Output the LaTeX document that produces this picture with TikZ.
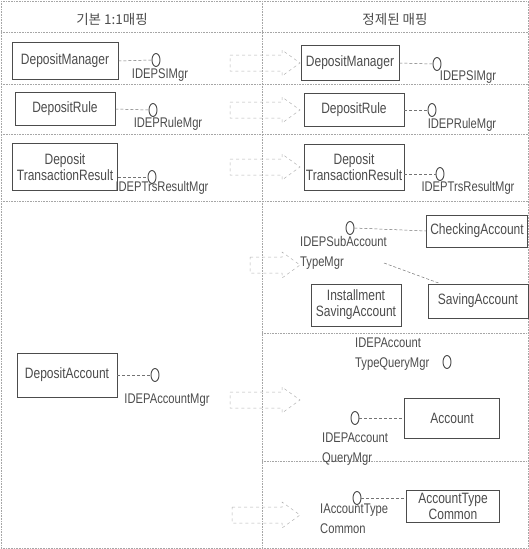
\documentclass[tikz,border=0pt]{standalone}
\usepackage{fontspec}
\setmainfont{Liberation Sans}
\newfontfamily\narrowfont{Liberation Sans}[FakeStretch=0.8]
\newfontfamily\labelfont{Liberation Sans}[FakeStretch=0.8]
\newfontfamily\krfont{Noto Sans CJK KR}
\usetikzlibrary{shapes.geometric}
\tikzset{
  sep/.style={gray!70, densely dotted, line width=0.6pt},
  cls/.style={draw=black!70, line width=0.9pt, fill=white, align=center,
    font=\narrowfont\fontsize{15}{16}\selectfont, text=black!70, inner sep=1pt},
  iface/.style={ellipse, draw=black!75, line width=0.9pt, minimum width=8pt,
    minimum height=13pt, inner sep=0pt},
  ilabel/.style={font=\labelfont\fontsize{14}{20}\selectfont, text=black!70, inner sep=0pt, align=left},
  link/.style={black!55, densely dashed, line width=0.5pt},
  blockarrow/.style={draw=gray!60, dashed, line width=0.5pt},
  hdr/.style={font=\krfont\fontsize{13.5}{15}\selectfont, text=black!70}
}
\begin{document}
\begin{tikzpicture}[x=1pt,y=-1pt]
\useasboundingbox (0,0) rectangle (529,549);
% frame and separators
\draw[sep] (1,1) rectangle (528,548);
\draw[sep] (262,1) -- (262,548);
\draw[sep] (1,32) -- (528,32);
\draw[sep] (1,84) -- (528,84);
\draw[sep] (1,134) -- (528,134);
\draw[sep] (1,201) -- (528,201);
\draw[sep] (262,333) -- (528,333);
\draw[sep] (262,461) -- (528,461);
% headers
\node[hdr] (hl) at (112,19) {기본 1:1매핑};
\node[hdr] (hr) at (395,19) {정제된 매핑};

% hollow dashed block arrows between the columns
\newcommand\blockarr[2]{%
  \draw[blockarrow] (#1,#2-8) -- (282,#2-8) -- (282,#2-13) -- (300,#2) -- (282,#2+13) -- (282,#2+8) -- (#1,#2+8) -- cycle;}
\blockarr{230}{63}
\blockarr{230}{110}
\blockarr{230}{167}
\blockarr{250}{265}
\blockarr{230}{400}
\blockarr{232}{515}

% left column: one interface per class
\node[cls, minimum width=106pt, minimum height=37pt] (l1) at (65,61) {DepositManager};
\node[iface] (li1) at (156,60) {};
\node[ilabel] (ll1) at (160,75) {IDEPSIMgr};
\draw[link] (l1.east) -- (li1.west);

\node[cls, minimum width=100pt, minimum height=33pt] (l2) at (65,109) {DepositRule};
\node[iface] (li2) at (153,110) {};
\node[ilabel] (ll2) at (168,124) {IDEPRuleMgr};
\draw[link] (l2.east) -- (li2.west);

\node[cls, minimum width=105pt, minimum height=47pt] (l3) at (65,167) {Deposit\\TransactionResult};
\node[iface] (li3) at (152,177) {};
\node[ilabel] (ll3) at (162,188) {IDEPTrsResultMgr};
\draw[link] (l3.east |- li3) -- (li3.west);

\node[cls, minimum width=100pt, minimum height=44pt] (l4) at (67,375) {DepositAccount};
\node[iface] (li4) at (155,375) {};
\node[ilabel] (ll4) at (167,400) {IDEPAccountMgr};
\draw[link] (l4.east) -- (li4.west);

% right column: refined interfaces
\node[cls, minimum width=98pt, minimum height=35pt] (r1) at (350,63) {DepositManager};
\node[iface] (ri1) at (437,64) {};
\node[ilabel] (rl1) at (468,77) {IDEPSIMgr};
\draw[link] (r1.east) -- (ri1.west);

\node[cls, minimum width=100pt, minimum height=33pt] (r2) at (354,110) {DepositRule};
\node[iface] (ri2) at (432,110) {};
\node[ilabel] (rl2) at (462,125) {IDEPRuleMgr};
\draw[link] (r2.east) -- (ri2.west);

\node[cls, minimum width=100pt, minimum height=46pt] (r3) at (354,167) {Deposit\\TransactionResult};
\node[iface] (ri3) at (440,174) {};
\node[ilabel] (rl3) at (468,188) {IDEPTrsResultMgr};
\draw[link] (r3.east |- ri3) -- (ri3.west);

% sub account types
\node[iface] (ri4) at (350,228) {};
\node[ilabel, anchor=north west] (rl4) at (300,236) {IDEPSubAccount\\TypeMgr};
\node[cls, minimum width=101pt, minimum height=32pt] (chk) at (477,231) {CheckingAccount};
\node[cls, minimum width=100pt, minimum height=34pt] (sav) at (478,301) {SavingAccount};
\node[cls, minimum width=90pt, minimum height=42pt] (ins) at (356,305) {Installment\\SavingAccount};
\draw[link] (ri4.east) -- (chk.west);
\coordinate (subend) at (384,263);
\draw[link] (subend) -- (sav.north west -| 440,284);

% account queries
\node[ilabel, anchor=north west] (rl5) at (355,338) {IDEPAccount\\TypeQueryMgr};
\node[iface] (ri5) at (447,362) {};
\node[cls, minimum width=95pt, minimum height=40pt] (acc) at (452,418) {Account};
\node[iface] (ri6) at (355,418) {};
\node[ilabel, anchor=north west] (rl6) at (322,433) {IDEPAccount\\QueryMgr};
\draw[link] (ri6.east) -- (acc.west);

% common account type
\node[iface] (ri7) at (357,498) {};
\node[cls, minimum width=93pt, minimum height=32pt] (com) at (453,506) {AccountType\\Common};
\node[ilabel, anchor=north west] (rl7) at (320,504) {IAccountType\\Common};
\draw[link] (ri7.east) -- (com.west |- ri7);
\end{tikzpicture}
\end{document}
